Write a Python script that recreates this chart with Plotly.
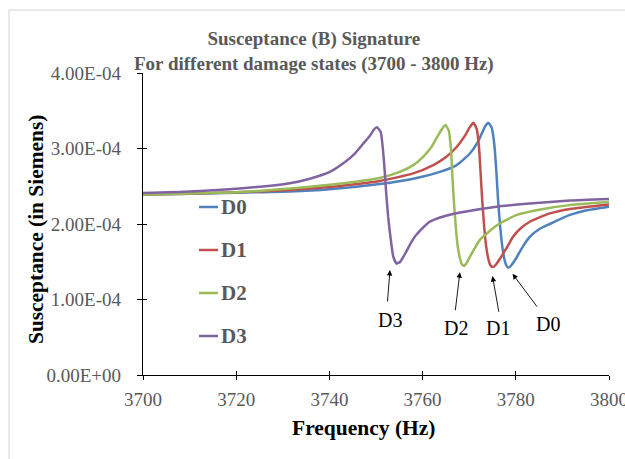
import plotly.graph_objects as go

SERIES = ["D0", "D1", "D2", "D3"]
COLORS = ["#4F81BD", "#C0504D", "#9BBB59", "#8064A2"]

D0_FREQ = [3700, 3710, 3720, 3731.5, 3740, 3750.8, 3758, 3763.7, 3767.3, 3770.1, 3771.9, 3773.0,
           3773.6, 3774.1, 3774.8, 3775.2, 3775.5, 3775.9, 3776.2, 3776.6, 3777.0, 3777.4, 3777.9,
           3778.4, 3779.0, 3780.2, 3781.5, 3783, 3785, 3787.3, 3791.6, 3795, 3800]
D0_B = [2.39, 2.40, 2.415, 2.43, 2.46, 2.53, 2.60, 2.69, 2.78, 2.93, 3.09, 3.24,
        3.31, 3.34, 3.28, 3.15, 2.98, 2.62, 2.31, 2.00, 1.75, 1.58, 1.46,
        1.42, 1.45, 1.56, 1.70, 1.83, 1.93, 2.00, 2.12, 2.18, 2.23]

D1_FREQ = [3700, 3710, 3720, 3731.5, 3740, 3750.8, 3758, 3762.3, 3765.1, 3767.3, 3769.1, 3770.1,
           3770.9, 3771.6, 3772.1, 3772.5, 3772.8, 3773.2, 3773.6, 3774.1, 3774.5, 3775.0, 3775.7,
           3776.6, 3778, 3779.4, 3781, 3783, 3787.3, 3791.6, 3800]
D1_B = [2.39, 2.40, 2.42, 2.45, 2.49, 2.57, 2.67, 2.78, 2.89, 3.02, 3.17, 3.28,
        3.34, 3.26, 3.02, 2.62, 2.31, 1.98, 1.72, 1.54, 1.46, 1.43, 1.46,
        1.54, 1.68, 1.83, 1.94, 2.03, 2.14, 2.20, 2.26]

D2_FREQ = [3700, 3710, 3720, 3731.5, 3740.1, 3750.8, 3755.1, 3758, 3760.1, 3761.9, 3763.3, 3764.4,
           3764.9, 3765.6, 3766.1, 3766.4, 3766.7, 3767.1, 3767.5, 3768.0, 3768.4, 3768.9, 3769.5,
           3770.1, 3772.3, 3775.9, 3780.2, 3785.9, 3791.6, 3800]
D2_B = [2.39, 2.405, 2.42, 2.47, 2.52, 2.61, 2.69, 2.78, 2.89, 3.02, 3.17, 3.28,
        3.31, 3.24, 2.98, 2.62, 2.31, 1.98, 1.72, 1.55, 1.47, 1.445, 1.49,
        1.56, 1.79, 1.98, 2.12, 2.20, 2.25, 2.29]

D3_FREQ = [3700, 3710, 3720.7, 3731.5, 3735.8, 3740.1, 3742.9, 3745.4, 3747.2, 3748.7, 3749.7,
           3750.2, 3751.0, 3751.7, 3752.2, 3752.6, 3753.0, 3753.7, 3754.4, 3755.2, 3756.2, 3757.4,
           3758.7, 3761.5, 3765, 3768.7, 3775.9, 3783, 3791.6, 3800]
D3_B = [2.41, 2.43, 2.47, 2.54, 2.60, 2.69, 2.80, 2.93, 3.06, 3.17, 3.26,
        3.28, 3.22, 2.84, 2.40, 2.10, 1.88, 1.57, 1.475, 1.50, 1.60, 1.74,
        1.86, 2.03, 2.11, 2.16, 2.23, 2.27, 2.31, 2.33]

FREQS = [D0_FREQ, D1_FREQ, D2_FREQ, D3_FREQ]
VALUES = [D0_B, D1_B, D2_B, D3_B]
SCALE = 1e-4

X_TICKS = [3700, 3720, 3740, 3760, 3780, 3800]
Y_TICKS = [0, 1e-4, 2e-4, 3e-4, 4e-4]
Y_TICK_LABELS = ["0.00E+00", "1.00E-04", "2.00E-04", "3.00E-04", "4.00E-04"]

# arrow tips (freq, B) and label positions for the callouts
CALLOUT_TIP = {"D3": (3753.0, 1.39e-4), "D2": (3768.0, 1.36e-4),
               "D1": (3775.0, 1.31e-4), "D0": (3779.3, 1.34e-4)}
CALLOUT_TAIL_PX = {"D3": (-2.6, 33), "D2": (-4.7, 39.4), "D1": (6.6, 37.3), "D0": (25.6, 34.3)}
CALLOUT_TEXT = {"D3": (3752.9, 0.727e-4), "D2": (3767.1, 0.625e-4),
                "D1": (3776.2, 0.625e-4), "D0": (3787.0, 0.67e-4)}

SERIF = "Liberation Serif, Times New Roman, serif"
GRAY = "#595959"

fig = go.Figure()
for name, col, fx, fy in zip(SERIES, COLORS, FREQS, VALUES):
    fig.add_trace(go.Scatter(x=fx, y=[v * SCALE for v in fy], mode="lines", name=name,
                             line=dict(color=col, width=2.5, shape="spline", smoothing=0.5),
                             showlegend=False))

# invisible trace on overlay axes (inside half of the crossing ticks)
fig.add_trace(go.Scatter(x=[X_TICKS[0]], y=[Y_TICKS[0]], xaxis="x2", yaxis="y2",
                         mode="markers", marker=dict(opacity=0), showlegend=False,
                         hoverinfo="skip"))

W, H = 625, 459
L, R, T, B = 143, 16, 73, 84
pw, ph = W - L - R, H - T - B

def px2paper(px, py):
    return (px - L) / pw, (H - B - py) / ph

fig.update_layout(
    width=W, height=H,
    margin=dict(l=L, r=R, t=T, b=B, autoexpand=False),
    paper_bgcolor="white", plot_bgcolor="white",
    font=dict(family=SERIF, color=GRAY),
    xaxis=dict(range=[3700, 3800], tickvals=X_TICKS, ticktext=[str(v) for v in X_TICKS],
               showgrid=False, zeroline=False, showline=True, linecolor="black", linewidth=1.3,
               ticks="outside", ticklen=4, tickcolor="black", tickwidth=1,
               ticklabeloverflow="allow", ticklabelstandoff=3, automargin=False,
               tickfont=dict(family=SERIF, size=19, color=GRAY)),
    yaxis=dict(range=[0, 4e-4], tickvals=Y_TICKS, ticktext=Y_TICK_LABELS,
               showgrid=False, zeroline=False, showline=True, linecolor="black", linewidth=1.3,
               ticks="outside", ticklen=5, tickcolor="black", tickwidth=1,
               ticklabelstandoff=12, automargin=False,
               tickfont=dict(family=SERIF, size=19, color=GRAY)),
    xaxis2=dict(range=[3700, 3800], tickvals=X_TICKS, overlaying="x", anchor="y2", side="bottom",
                showgrid=False, zeroline=False, showline=False, showticklabels=False,
                ticks="inside", ticklen=4, tickcolor="black", tickwidth=1, automargin=False),
    yaxis2=dict(range=[0, 4e-4], tickvals=Y_TICKS, overlaying="y", anchor="x2", side="left",
                showgrid=False, zeroline=False, showline=False, showticklabels=False,
                ticks="inside", ticklen=4, tickcolor="black", tickwidth=1, automargin=False),
    showlegend=False,
)

# chart area border (light gray)
bx0, by1 = px2paper(9, 10)
bx1, by0 = px2paper(640, 470)
fig.add_shape(type="rect", xref="paper", yref="paper", x0=bx0, x1=bx1, y0=by0, y1=by1,
              line=dict(color="#E3E3E3", width=1.5), layer="below")

annotations = []
# title
tx, ty = px2paper(314, 51)
annotations.append(dict(xref="paper", yref="paper", x=tx, y=ty, xanchor="center", yanchor="middle",
                        text="<b>Susceptance (B) Signature<br>For different damage states (3700 - 3800 Hz)</b>",
                        showarrow=False, font=dict(family=SERIF, size=19, color=GRAY)))
# axis titles
ax_, ay_ = px2paper(364, 428)
annotations.append(dict(xref="paper", yref="paper", x=ax_, y=ay_, xanchor="center", yanchor="middle",
                        text="<b>Frequency (Hz)</b>", showarrow=False,
                        font=dict(family=SERIF, size=21.5, color="black")))
ax_, ay_ = px2paper(36, 230)
annotations.append(dict(xref="paper", yref="paper", x=ax_, y=ay_, xanchor="center", yanchor="middle",
                        text="<b>Susceptance (in Siemens)</b>", showarrow=False, textangle=-90,
                        font=dict(family=SERIF, size=21.4, color="black")))

# manual legend
LEG_Y = [207, 250, 293, 336]
for name, col, ly in zip(SERIES, COLORS, LEG_Y):
    lx0, lyp = px2paper(199, ly)
    lx1, _ = px2paper(218, ly)
    fig.add_shape(type="line", xref="paper", yref="paper", x0=lx0, x1=lx1, y0=lyp, y1=lyp,
                  line=dict(color=col, width=2.5))
    tx_, _ = px2paper(219, ly)
    annotations.append(dict(xref="paper", yref="paper", x=tx_, y=lyp, xanchor="left", yanchor="middle",
                            text="<b>" + name + "</b>", showarrow=False,
                            font=dict(family=SERIF, size=21, color=GRAY)))

# callouts with arrows
for name in SERIES:
    tipx, tipy = CALLOUT_TIP[name]
    dx, dy = CALLOUT_TAIL_PX[name]
    annotations.append(dict(x=tipx, y=tipy, xref="x", yref="y", text="", showarrow=True,
                            ax=dx, ay=dy, axref="pixel", ayref="pixel",
                            arrowhead=2, arrowsize=1.2, arrowwidth=0.9, arrowcolor="black"))
    lx, ly = CALLOUT_TEXT[name]
    annotations.append(dict(x=lx, y=ly, xref="x", yref="y", text=name, showarrow=False,
                            xanchor="center", yanchor="middle",
                            font=dict(family=SERIF, size=20, color="black")))

fig.update_layout(annotations=annotations)
fig.write_html("out.html")
